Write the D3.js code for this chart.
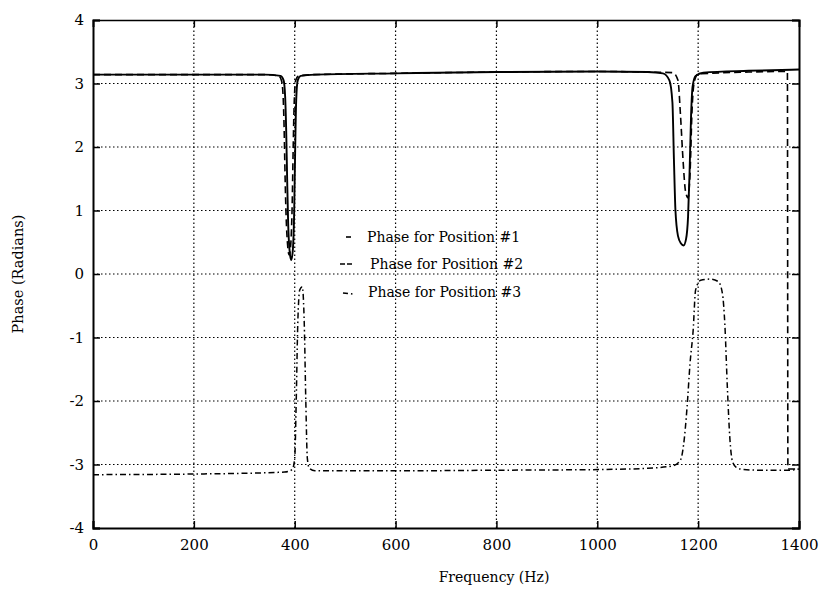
<!DOCTYPE html>
<html><head><meta charset="utf-8">
<script src="https://cdn.jsdelivr.net/npm/d3@7"></script>
<style>body{margin:0;background:#fff}svg{display:block}</style>
</head><body>
<script>
const xTicks = [0,200,400,600,800,1000,1200,1400];
const yTicks = [-4,-3,-2,-1,0,1,2,3,4];
const legendLabels = ["Phase for Position #1","Phase for Position #2","Phase for Position #3"];
const xLabel = "Frequency (Hz)";
const yLabel = "Phase (Radians)";

// Position #1 (solid)
const freq1 = [0,200,340,372,378,381,383,385,387,390,393,396,399,401,403,406,412,440,600,800,1000,1100,1130,1143,1149,1152,1155,1160,1166,1171,1176,1180,1183,1186,1189,1195,1210,1300,1400];
const phase1 = [3.14,3.14,3.14,3.12,3.05,2.8,2.3,1.5,0.8,0.35,0.22,0.35,1.0,2.0,2.75,3.05,3.12,3.14,3.16,3.18,3.19,3.18,3.16,3.05,2.7,1.8,1.0,0.6,0.48,0.45,0.55,0.9,1.6,2.5,2.95,3.12,3.17,3.2,3.22];

// Position #2 (dashed)
const freq2 = [0,200,340,368,374,377,379,381,383,386,389,392,395,397,399,402,408,440,600,800,1000,1100,1150,1160,1165,1170,1175,1180,1184,1188,1193,1200,1300,1377,1378,1400];
const phase2 = [3.14,3.14,3.14,3.12,3.04,2.8,2.3,1.5,0.9,0.45,0.3,0.45,1.1,2.0,2.7,3.05,3.12,3.14,3.16,3.18,3.19,3.18,3.17,3.05,2.5,1.8,1.3,1.2,1.6,2.6,3.05,3.15,3.18,3.19,-3.07,-3.07];

// Position #3 (dash-dot)
const freq3 = [0,200,380,395,400,403,406,410,415,419,422,425,429,440,600,800,1000,1100,1150,1165,1171,1178,1184,1190,1195,1205,1225,1240,1248,1253,1258,1263,1268,1275,1290,1330,1380,1400];
const phase3 = [-3.16,-3.15,-3.12,-3.08,-2.9,-2.0,-0.8,-0.25,-0.2,-0.8,-2.0,-2.9,-3.06,-3.1,-3.1,-3.09,-3.08,-3.06,-3.02,-2.93,-2.7,-2.1,-1.4,-0.9,-0.25,-0.1,-0.08,-0.12,-0.3,-0.8,-1.8,-2.6,-2.95,-3.04,-3.08,-3.09,-3.09,-3.07];

const W = 826, H = 594;
const m = {left:93, right:826-799, top:20, bottom:594-528};
const svg = d3.select("body").append("svg").attr("width",W).attr("height",H);
const x = d3.scaleLinear().domain([0,1400]).range([m.left, W-m.right]);
const y = d3.scaleLinear().domain([-4,4]).range([H-m.bottom, m.top]);
const font = "DejaVu Serif";

// grid
const g = svg.append("g");
g.selectAll("line.gx").data(xTicks.slice(1,-1)).enter().append("line")
  .attr("x1",d=>x(d)).attr("x2",d=>x(d)).attr("y1",y(-4)).attr("y2",y(4))
  .attr("stroke","#000").attr("stroke-width",1.2).attr("stroke-dasharray","1.5,2.5");
g.selectAll("line.gy").data(yTicks.slice(1,-1)).enter().append("line")
  .attr("y1",d=>y(d)).attr("y2",d=>y(d)).attr("x1",x(0)).attr("x2",x(1400))
  .attr("stroke","#000").attr("stroke-width",1.2).attr("stroke-dasharray","1.5,2.5");

// axes
const fmt = d => String(d);
const xa = svg.append("g").attr("transform",`translate(0,${y(-4)})`)
  .call(d3.axisBottom(x).tickValues(xTicks).tickSize(-7).tickPadding(11).tickFormat(fmt));
const xaTop = svg.append("g").attr("transform",`translate(0,${y(4)})`)
  .call(d3.axisTop(x).tickValues(xTicks).tickSize(-7).tickFormat(""));
const ya = svg.append("g").attr("transform",`translate(${x(0)},0)`)
  .call(d3.axisLeft(y).tickValues(yTicks).tickSize(-7).tickPadding(9).tickFormat(fmt));
const yaR = svg.append("g").attr("transform",`translate(${x(1400)},0)`)
  .call(d3.axisRight(y).tickValues(yTicks).tickSize(-7).tickFormat(""));
[xa,xaTop,ya,yaR].forEach(a=>{
  a.attr("font-family",font).attr("font-size",15);
  a.selectAll("path.domain").attr("stroke","#000").attr("stroke-width",2);
  a.selectAll(".tick line").attr("stroke","#000").attr("stroke-width",1.5);
  a.selectAll("text").attr("fill","#000");
});
xaTop.select("path.domain").attr("stroke-width",1.5);
ya.selectAll(".tick text").attr("dy","0.32em");

svg.append("defs").append("clipPath").attr("id","clip").append("rect")
  .attr("x",x(0)).attr("y",y(4)).attr("width",x(1400)-x(0)).attr("height",y(-4)-y(4));

const series = [
  {f:freq1,p:phase1,dash:null,w:1.9},
  {f:freq2,p:phase2,dash:"7,4",w:1.6},
  {f:freq3,p:phase3,dash:"6,3,1.5,3",w:1.5}
];
const line = d3.line().x(d=>x(d[0])).y(d=>y(d[1])).curve(d3.curveMonotoneX);
const cg = svg.append("g").attr("clip-path","url(#clip)");
series.forEach(s=>{
  const pts = s.f.map((f,i)=>[f,s.p[i]]);
  cg.append("path").datum(pts).attr("d",line).attr("fill","none")
    .attr("stroke","#000").attr("stroke-width",s.w)
    .attr("stroke-dasharray",s.dash);
});

// legend
const lg = svg.append("g").attr("font-family",font).attr("font-size",14);
const legY = [237,264,292];
const sampleDash = [{x1:346,x2:351,dash:null},{x1:340,x2:352,dash:"5,2"},{x1:343,x2:353,dash:"5,3,1.5,3"}];
legendLabels.forEach((t,i)=>{
  lg.append("line").attr("x1",sampleDash[i].x1).attr("x2",sampleDash[i].x2)
    .attr("y1",legY[i]+(i==2?1:0)).attr("y2",legY[i]+(i==2?2:0))
    .attr("stroke","#000").attr("stroke-width",1.6).attr("stroke-dasharray",sampleDash[i].dash);
  lg.append("text").attr("x",[367,370,368][i]).attr("y",legY[i]).attr("dy","0.35em").text(t);
});

svg.append("text").attr("x",494).attr("y",582).attr("text-anchor","middle")
  .attr("font-family",font).attr("font-size",14).text(xLabel);
svg.append("text").attr("transform",`translate(18,${y(0)}) rotate(-90)`).attr("text-anchor","middle")
  .attr("dy","0.35em").attr("font-family",font).attr("font-size",14.5).text(yLabel);
</script>
</body></html>
